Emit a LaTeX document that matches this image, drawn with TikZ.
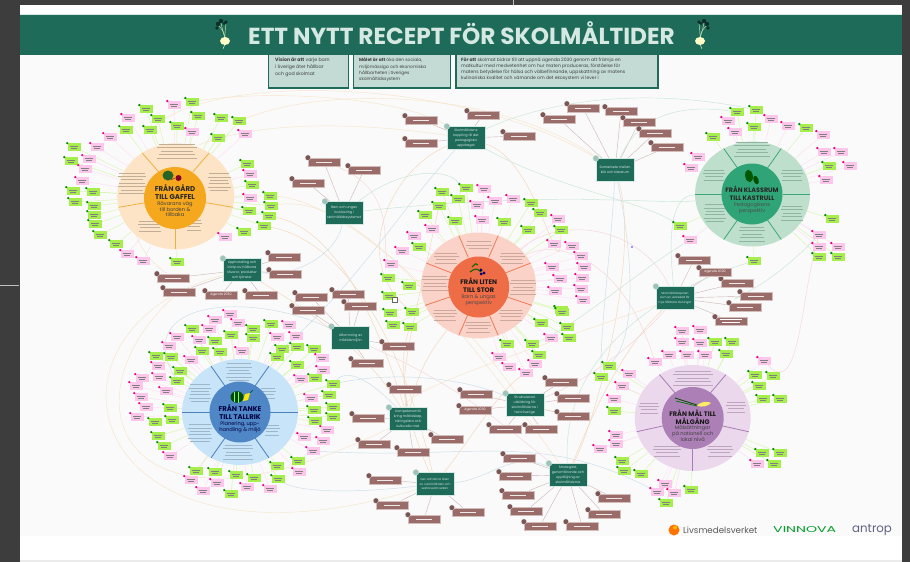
\documentclass[tikz,border=0pt]{standalone}
\usepackage{fontspec}
\usepackage{graphicx}
\setmainfont{Poppins}
\usetikzlibrary{shapes.geometric}
\definecolor{hubg}{HTML}{1F6B5A}
\definecolor{hubt}{HTML}{D5E8E2}
\definecolor{brownb}{HTML}{9A6C69}
\definecolor{gleafc}{HTML}{A6EE4C}
\definecolor{pleafc}{HTML}{FFC6EC}
\definecolor{cbe}{HTML}{F6E4C8}
\definecolor{cor}{HTML}{F4D6BA}
\definecolor{cbl}{HTML}{C9DEEA}
\definecolor{cgr}{HTML}{C8E6D6}
\definecolor{cpk}{HTML}{F7D4D9}
\definecolor{dAo}{HTML}{FDE4C6}\definecolor{dAi}{HTML}{F5A81E}\definecolor{dAl}{HTML}{F0B040}
\definecolor{dBo}{HTML}{FAD2C8}\definecolor{dBi}{HTML}{EE6C46}\definecolor{dBl}{HTML}{EE7A58}
\definecolor{dCo}{HTML}{BFDFCD}\definecolor{dCi}{HTML}{2FA476}\definecolor{dCl}{HTML}{3FA57F}
\definecolor{dDo}{HTML}{C8E4F8}\definecolor{dDi}{HTML}{4F86C6}\definecolor{dDl}{HTML}{4A7FB8}
\definecolor{dEo}{HTML}{ECD8EC}\definecolor{dEi}{HTML}{AC80B6}\definecolor{dEl}{HTML}{A87DB5}
\definecolor{gA}{HTML}{C0AE96}
\definecolor{gB}{HTML}{CBA89C}
\definecolor{gC}{HTML}{8FB5A2}
\definecolor{gD}{HTML}{9DB6C9}
\definecolor{gE}{HTML}{BDA5BD}
\tikzset{
  hubshape/.style={rectangle,minimum width=38pt,minimum height=23pt,inner sep=.5pt},
  hubnode/.style={hubshape,fill=hubg,draw=hubt,line width=.3pt,align=center,text=hubt,font=\fontsize{3.3}{4.9}\selectfont},
  brownshape/.style={rectangle,minimum width=32pt,minimum height=8.4pt,inner sep=0pt},
  brownnode/.style={brownshape,fill=brownb,draw=brownb!45!white,line width=.25pt,text=white,font=\fontsize{3.2}{4}\selectfont},
  leafshape/.style={rectangle,minimum width=13pt,minimum height=7.4pt,inner sep=0pt},
  gnode/.style={leafshape,fill=gleafc},
  pnode/.style={leafshape,fill=pleafc},
  gconn/.style={draw=gleafc!50!white,line width=.4pt},
  pconn/.style={draw=pleafc!60!white,line width=.4pt},
  bconn/.style={draw=brownb!50!white,line width=.4pt},
  curve/.style={line width=.45pt},
  titlefont/.style={font=\fontsize{#1}{8}\selectfont\bfseries},
  subfont/.style={font=\fontsize{5.1}{5.5}\selectfont},
  textbox/.style={rectangle,fill=hubt!90!hubg,draw=hubg,line width=1.8pt,anchor=north west},
  dsk/.style={ellipse,inner sep=0pt,minimum width=#1},
}
% greek lines for illegible small print
\newcommand{\gr}[5]{\foreach \k in {1,...,#4}{%
  \pgfmathsetmacro{\yy}{#2+(\k-(#4+1)/2)*3.4}%
  \pgfmathsetmacro{\ww}{#3*(0.8+0.1*mod(\k*7,3))}%
  \draw[#5,line width=.45pt] ({#1-\ww/2},\yy) -- ({#1+\ww/2},\yy);}}
% first pass: empty leaf node + connector to disc
\newcommand{\leaflink}[3]{%
  \foreach \x/\y [count=\i] in #3{%
    \node[leafshape] (#2#1\i) at (\x,\y) {};
    \draw[#1conn] (#2#1\i) -- (#2);
  }}
% second pass: visible leaf
\newcommand{\leafshow}[4]{%
  \foreach \x/\y [count=\i] in #4{%
    \node[#1node] (#2#1\i) at (\x,\y) {};
    \fill[#3] (#2#1\i.north west) circle (1.3pt);
    \draw[black!50,line width=.3pt] (\x-4,\y-1) -- (\x+4,\y-1);
    \draw[black!50,line width=.3pt] (\x-3,\y+1) -- (\x+3,\y+1);
  }}
\newcommand{\brownlink}[2]{%
  \foreach \x/\y [count=\i] in #2{%
    \node[brownshape] (#1b\i) at (\x,\y) {};
    \draw[bconn] (#1b\i) -- (#1);
  }}
\newcommand{\brownshow}[2]{%
  \foreach \x/\y [count=\i] in #2{%
    \node[brownnode] (#1b\i) at (\x,\y) {};
    \fill[brownb!80!black,draw=white,line width=.2pt] (#1b\i.north west) circle (2.8pt);
    \draw[white!85!brownb,line width=.4pt] (\x-8,\y) -- (\x+8,\y);
  }}
\newcommand{\dvs}[7]{\foreach \a in {#7}{%
  \draw[#6,line width=.8pt] ({#1+#5*cos(\a)},{#2-#5*sin(\a)}) -- ({#1+#3*cos(\a)},{#2-#4*sin(\a)});}}
\newcommand{\hubicon}[1]{\fill[hubt!70!hubg,draw=hubt,line width=.25pt] (#1.north west) circle (3pt);}
\newcommand{\turnip}[2]{\begin{scope}[shift={(#1,0)},xscale=#2]
  \draw[hubt!80!yellow,line width=.4pt] (0,38) .. controls (-1,32) .. (-6,26);
  \draw[hubt!80!yellow,line width=.4pt] (0,38) .. controls (0,32) .. (1,24);
  \draw[hubt!80!yellow,line width=.4pt] (0,38) .. controls (-2,32) .. (-4,23);
  \fill[hubg!45!black] (-7,24) circle (2.2pt) (-4,21) circle (2.2pt) (-8,28) circle (1.8pt) (1,22) circle (1.8pt) (-1,23.5) circle (1.5pt);
  \draw[hubt!80!yellow,line width=.5pt] (0,44) -- (-2,49);
  \fill[yellow!22!white] (0,41) ellipse (5pt and 4pt);
\end{scope}}
% positions
\def\Bupph{173/278,179/292,261/295,285/274,284/257}
\def\Bbarn{308/183,324/162,364/170}
\def\Bskol{421/120,483/115,421/143,519/136}
\def\Bsamarb{559/119,583/108,621/111,639/122,655/133,667/147}
\def\Bap{694/260,737/283,756/296,745/307}
\def\Butb{311/297,308/310,348/294,360/306,398/346,367/363}
\def\Bkomp{405/389,368/418,374/444,413/452,447/439}
\def\Bstru{476/394,505/429,541/429,561/382,573/398,573/416}
\def\Bstrat{519/458,515/476,518/495,526/511,540/526,582/526,604/514,614/498}
\def\Bdena{385/480,392/505,424/519,468/512}
\def\Lag{74/147,71/161,73/191,75/202,93/192,94/206,94/215,95/224,100/235,116/244,177/262,244/232,264/226,269/216,271/206,270/196,249/211,252/185,247/164,218/138,239/121,221/118,177/126,198/116,192/102,158/119,150/130,146/109,126/130}
\def\Lap{110/137,97/147,89/159,85/169,82/181,127/254,143/261,225/237,250/198,250/174,245/134,192/132,174/105,128/118}
\def\Lbg{442/192,466/188,458/199,439/206,425/215,455/221,504/222,528/230,531/203,540/213,561/230,419/247,409/286,388/278,389/296,561/310,390/313,412/312,393/325,410/327,541/323,562/312,567/327,569/338,507/344,532/344,539/355}
\def\Lbp{484/189,477/205,495/201,513/199,482/220,558/219,432/229,414/236,402/251,391/264,554/244,572/246,581/256,552/267,584/267,560/279,582/278,555/291,581/289,583/300,551/338,499/357,509/367,535/364,526/373}
\def\Lcg{737/112,756/110,754/127,713/137,806/128,829/166,832/219,680/226,754/261,819/257,838/257}
\def\Lcp{728/121,771/119,788/126,735/132,823/135,698/157,691/168,824/152,841/152,850/166,826/180,819/235,819/247,838/247,690/240}
\def\Ldg{271/324,192/329,231/335,253/329,253/338,215/341,202/351,220/352,171/357,156/356,180/371,177/381,282/349,297/347,277/357,314/349,297/365,315/378,333/384,329/395,314/410,333/407,333/417,315/421,170/408,155/422,172/420,158/436,164/446,277/466,298/461,278/479,196/471,215/472,236/475,254/478,231/494}
\def\Ldp{230/314,215/320,238/323,209/329,289/325,296/336,277/337,177/337,199/340,169/346,242/351,191/360,322/358,323/370,158/366,159/377,301/379,142/378,136/386,141/397,166/391,146/407,137/417,311/398,304/437,327/430,323/441,313/451,170/456,299/472,191/480,217/483,203/491,247/487,270/489}
\def\Leg{715/342,732/342,726/354,755/375,773/376,759/386,763/399,780/399,762/453,780/453,774/464,641/474,691/490,666/503,609/366,601/377,614/411,622/461,624/471}
\def\Lep{682/331,700/330,682/342,700/343,669/355,687/355,705/355,655/362,764/361,629/374,622/386,757/464,665/484,657/492,674/493,614/399,616/435,616/444,600/449}
\begin{document}
\begin{tikzpicture}[x=1pt,y=-1pt]
\useasboundingbox (0,0) rectangle (910,562);
\fill[black!76] (0,0) rectangle (910,562);
\fill[white] (20,5) rectangle (902,560);
\fill[black!8] (20,560) rectangle (902,562);
\fill[black!2] (20,55) rectangle (902,536);
\draw[black!25,line width=.5pt] (513,0) -- (513,5);
\draw[black!25,line width=.5pt] (0,285) -- (19,285);

% --- first pass: empty nodes and connectors, so that everything solid lies above them
\node[dsk=117pt,minimum height=106pt] (d1) at (175.7,196.3) {};
\node[dsk=115pt,minimum height=106pt] (d2) at (478.5,285.5) {};
\node[dsk=115pt,minimum height=105pt] (d3) at (752.5,194) {};
\node[dsk=116pt,minimum height=106pt] (d4) at (240,412) {};
\node[dsk=116pt,minimum height=106pt] (d5) at (692.7,418) {};
\node[hubshape] (upph) at (242,270) {};
\node[hubshape] (barn) at (344,213) {};
\node[hubshape] (skol) at (466,138) {};
\node[hubshape] (samarb) at (615,170) {};
\node[hubshape] (ap) at (675,298) {};
\node[hubshape] (utb) at (350.5,338) {};
\node[hubshape] (komp) at (408,419) {};
\node[hubshape] (stru) at (524.7,405) {};
\node[hubshape] (strat) at (568,475) {};
\node[hubshape] (dena) at (435,484) {};
\brownlink{upph}{\Bupph}\brownlink{barn}{\Bbarn}\brownlink{skol}{\Bskol}\brownlink{samarb}{\Bsamarb}\brownlink{ap}{\Bap}
\brownlink{utb}{\Butb}\brownlink{komp}{\Bkomp}\brownlink{stru}{\Bstru}\brownlink{strat}{\Bstrat}\brownlink{dena}{\Bdena}
\node[brownshape] (la) at (221,295) {};
\node[brownshape] (lb) at (715,272) {};
\node[brownshape] (lc) at (475,410) {};
\node[brownshape] (ld) at (731,321) {};
\draw[bconn] (la) -- (upph);
\draw[bconn] (lb) -- (ap);
\draw[bconn] (lc) -- (stru);
\draw[bconn] (ld) -- (ap);
\leaflink{g}{d1}{\Lag}\leaflink{p}{d1}{\Lap}
\leaflink{g}{d2}{\Lbg}\leaflink{p}{d2}{\Lbp}
\leaflink{g}{d3}{\Lcg}\leaflink{p}{d3}{\Lcp}
\leaflink{g}{d4}{\Ldg}\leaflink{p}{d4}{\Ldp}
\leaflink{g}{d5}{\Leg}\leaflink{p}{d5}{\Lep}

% long connectors
\draw[curve,cbe] (upphb2) .. controls (60,400) and (120,560) .. (komp);
\draw[curve,cbe] (upph) .. controls (20,330) and (80,590) .. (dena);
\draw[curve,cbe] (d1g27) .. controls (220,70) and (470,80) .. (samarb);
\draw[curve,cbe] (d1g25) .. controls (260,90) and (400,95) .. (skol);
\draw[curve,cbe] (d1g21) .. controls (330,85) and (500,90) .. (samarb);
\draw[curve,cbe] (upphb1) .. controls (90,220) and (130,90) .. (skol);
\draw[curve,cor] (d1g13) .. controls (340,240) and (400,330) .. (dena);
\draw[curve,cor] (d1g14) .. controls (340,230) and (380,330) .. (komp);
\draw[curve,cbe] (d1g16) .. controls (340,200) and (450,300) .. (stru);
\draw[curve,cbe] (d1g15) .. controls (360,190) and (470,340) .. (strat);
\draw[curve,cor] (skol) .. controls (390,170) and (350,260) .. (d2g18);
\draw[curve,cor] (skol) .. controls (540,160) and (560,300) .. (d2g11);
\draw[curve,cpk] (d2) .. controls (560,215) and (640,225) .. (ap);
\draw[curve,cpk] (d2) .. controls (550,240) and (620,250) .. (d5p8);
\draw[curve,cpk] (barnb2) .. controls (400,190) and (380,250) .. (d2p10);
\draw[curve,cgr] (skol) .. controls (560,190) and (640,200) .. (d3g8);
\draw[curve,cgr] (samarb) .. controls (640,110) and (690,105) .. (d3g1);
\draw[curve,cgr] (skol) .. controls (560,95) and (660,90) .. (d3g2);
\draw[curve,cgr] (ap) .. controls (665,210) and (680,195) .. (d3);
\draw[curve,cgr] (d3p15) .. controls (640,270) and (570,330) .. (d2g26);
\draw[curve,cgr] (d3) .. controls (660,205) and (560,190) .. (barn);
\draw[curve,cgr] (d3g9) .. controls (690,280) and (560,340) .. (strat);
\draw[curve,cgr] (barn) .. controls (410,160) and (470,170) .. (d2g3);
\draw[curve,cbl] (samarb) .. controls (612,240) and (600,330) .. (d5g16);
\draw[curve,cbl] (samarb) .. controls (630,240) and (640,330) .. (d5g15);
\draw[curve,cbl] (barn) .. controls (338,250) and (300,278) .. (upph);
\draw[curve,cbl] (utb) .. controls (250,290) and (130,300) .. (d4g12);
\draw[curve,cbl] (d4g32) .. controls (295,490) and (340,495) .. (dena);
\draw[curve,cbl] (d4g19) .. controls (400,370) and (470,380) .. (stru);
\draw[curve,cbl] (d4p28) .. controls (470,460) and (540,430) .. (d5p14);
\draw[curve,cbl] (dena) .. controls (490,480) and (510,450) .. (strat);
\draw[curve,cbl] (skol) .. controls (400,210) and (360,280) .. (d4g13);
\draw[curve,cbl] (komp) .. controls (370,380) and (340,360) .. (d4g20);
\draw[curve,cor] (komp) .. controls (400,370) and (410,340) .. (d2g4);
\draw[curve,cor] (komp) .. controls (420,360) and (440,340) .. (d2);
\draw[curve,cor] (komp) .. controls (360,340) and (290,300) .. (upph);
\draw[curve,cor] (dena) .. controls (470,440) and (500,390) .. (d2p25);
\draw[curve,cor] (dena) .. controls (410,430) and (395,370) .. (d2g20);
\draw[curve,cor] (strat) .. controls (590,420) and (620,350) .. (ap);
\draw[curve,cor] (strat) .. controls (600,410) and (640,250) .. (samarb);
\draw[curve,cpk] (strat) .. controls (520,440) and (470,390) .. (utb);
\draw[curve,cpk] (stru) .. controls (590,380) and (640,340) .. (ap);
\draw[curve,cbe] (ap) .. controls (560,340) and (400,390) .. (komp);
\draw[curve,cpk] (d5p9) .. controls (800,400) and (800,300) .. (d3p12);
\draw[curve,cgr] (d3p12) .. controls (755,300) and (720,300) .. (apb3);

% --- second pass: solid shapes
% top text boxes
\node[textbox,minimum width=80pt,minimum height=37pt] (boxa) at (267.5,50) {};
\node[textbox,minimum width=97pt,minimum height=37pt] (boxb) at (352.5,50) {};
\node[textbox,minimum width=202pt,minimum height=37pt] (boxc) at (455,50) {};
\node[anchor=north west,inner sep=0pt,align=left,font=\fontsize{4.7}{6.6}\selectfont,text=black!75] (ta) at (275,58) {\textbf{Vision är att} varje barn\\i Sverige äter hållbar\\och god skolmat};
\node[anchor=north west,inner sep=0pt,align=left,font=\fontsize{4.4}{6.3}\selectfont,text=black!75] (tb) at (359,58) {\textbf{Målet är att} öka den sociala,\\miljömässiga och ekonomiska\\hållbarheten i Sveriges\\skolmåltidssystem};
\node[anchor=north west,inner sep=0pt,align=left,font=\fontsize{4.55}{6.1}\selectfont,text=black!75] (tc) at (461,57.5) {\textbf{För att} skolmat bidrar till att uppnå agenda 2030 genom att främja en\\matkultur med medvetenhet om hur maten produceras, förståelse för\\matens betydelse för hälsa och välbefinnande, uppskattning av matens\\kulinariska kvalitet och värnande om det ekosystem vi lever i};

% header
\fill[hubg] (20,14) rectangle (902,55);
\draw[hubt,line width=.4pt] (20,14) -- (902,14);
\node[font=\fontsize{23.2}{25}\selectfont\bfseries,text=hubt,inner sep=0pt] (title) at (461.5,33.5) {ETT NYTT RECEPT FÖR SKOLMÅLTIDER};
\turnip{225}{1}
\turnip{700}{-1}

% discs
\node[dsk=117pt,minimum height=106pt,fill=dAo] (d1) at (175.7,196.3) {};
\node[dsk=115pt,minimum height=106pt,fill=dBo] (d2) at (478.5,285.5) {};
\node[dsk=115pt,minimum height=105pt,fill=dCo] (d3) at (752.5,194) {};
\node[dsk=116pt,minimum height=106pt,fill=dDo] (d4) at (240,412) {};
\node[dsk=116pt,minimum height=106pt,fill=dEo] (d5) at (692.7,418) {};

\dvs{175.7}{196.3}{58.5}{53}{30}{dAl}{125,55,-12,-90,192}
\dvs{478.5}{285.5}{57.5}{53}{30}{dBl}{110,70,25,-22,-70,-110,202,155}
\dvs{752.5}{194}{57.5}{52.5}{30}{dCl}{120,60,0,-60,-120,180}
\dvs{240}{412}{58}{53}{30}{dDl}{120,60,0,-60,-120,180}
\dvs{692.7}{418}{58}{53}{30}{dEl}{125,55,-15,-90,195}

\gr{176.7}{151}{40}{5}{gA}\gr{219}{182}{23}{6}{gA}\gr{194}{225}{15}{4}{gA}\gr{150}{226}{25}{4}{gA}\gr{132}{183}{28}{7}{gA}
\gr{479}{245}{26}{3}{gB}\gr{512}{258}{25}{4}{gB}\gr{446}{258}{25}{4}{gB}\gr{435}{283}{27}{5}{gB}\gr{523}{287}{26}{5}{gB}\gr{445}{315}{24}{4}{gB}\gr{478}{327}{26}{4}{gB}\gr{511}{315}{24}{4}{gB}
\gr{752}{149}{36}{5}{gC}\gr{792}{175}{22}{4}{gC}\gr{714}{175}{22}{4}{gC}\gr{715}{213}{22}{6}{gC}\gr{792}{213}{22}{5}{gC}\gr{752}{234}{26}{5}{gC}
\gr{239}{372}{26}{6}{gD}\gr{268}{393}{16}{4}{gD}\gr{272}{430}{16}{4}{gD}\gr{238}{452}{30}{5}{gD}\gr{200}{433}{24}{6}{gD}\gr{200}{393}{22}{6}{gD}
\gr{693}{378}{40}{5}{gE}\gr{649}{408}{20}{4}{gE}\gr{736}{407}{20}{4}{gE}\gr{667}{451}{28}{4}{gE}\gr{720}{451}{26}{4}{gE}

% inner circles
\node[circle,fill=dAi,minimum size=62pt,inner sep=0pt] (c1) at (175,198) {};
\node[circle,fill=dBi,minimum size=61pt,inner sep=0pt] (c2) at (478.7,287) {};
\node[circle,fill=dCi,minimum size=61pt,inner sep=0pt] (c3) at (752,194) {};
\node[circle,fill=dDi,minimum size=61pt,inner sep=0pt] (c4) at (240,412) {};
\node[circle,fill=dEi,minimum size=62pt,inner sep=0pt] (c5) at (692.7,418) {};

% disc 1 labels and vegetables
\fill[green!35!black!70!gray] (168,175.5) ellipse (5.5pt and 5pt);
\fill[purple!70!black] (178.5,178) circle (3pt);
\draw[purple!70!black,line width=.4pt] (175,178) -- (171,180);
\node[titlefont=7,text=black!85,align=center,inner sep=0pt] (t1) at (175,192) {FRÅN GÅRD\\TILL GAFFEL};
\node[subfont,text=black!75,align=center,inner sep=0pt] (s1) at (175,209) {Råvarans väg\\till borden \&\\tillbaka};
% disc 2
\draw[green!40!black,line width=1pt] (470,272) .. controls (476,268) .. (481,272);
\draw[green!40!black,line width=1pt] (472,267) .. controls (476,263) .. (478,265);
\fill[blue!45!black] (481,270) circle (1.6pt) (484,273) circle (1.6pt) (481,274) circle (1.5pt);
\node[titlefont=6.6,text=black!90,align=center,inner sep=0pt] (t2) at (478.7,285.5) {FRÅN LITEN\\TILL STOR};
\node[subfont,text=black!70,align=center,inner sep=0pt] (s2) at (478.7,300.5) {Barn \& ungas\\perspektiv};
% disc 3
\fill[green!35!black,rotate around={10:(749,176)}] (749,176) ellipse (3.8pt and 6.3pt);
\fill[green!30!black,rotate around={20:(756,180)}] (756,180) ellipse (2.5pt and 4.5pt);
\node[titlefont=6.4,text=black!85,align=center,inner sep=0pt] (t3) at (752,193.5) {FRÅN KLASSRUM\\TILL KASTRULL};
\node[subfont,text=black!70,align=center,inner sep=0pt] (s3) at (752,208) {Pedagogikens\\perspektiv};
% disc 4
\fill[green!30!black] (237,397) ellipse (6.5pt and 5.8pt);
\fill[yellow!90!orange] (245,394) -- (250,393) -- (248,400) -- (243,401) -- cycle;
\draw[green!55!white,line width=.3pt] (234,392) -- (234,402) (238,391.5) -- (238,402.5);
\draw[green!30!black,line width=.5pt] (250,393) -- (253,390);
\node[titlefont=6.9,text=blue!25!black,align=center,inner sep=0pt] (t4) at (240,412) {FRÅN TANKE\\TILL TALLRIK};
\node[subfont,text=blue!25!black,align=center,inner sep=0pt] (s4) at (240,427) {Planering, upp-\\handling \& miljö};
% disc 5
\draw[green!30!black,line width=.8pt] (675,398) -- (697,405);
\draw[green!45!black,line width=.7pt] (676,401) -- (697,406);
\fill[yellow!55!white!90!orange] (697,405.5) .. controls (703,400) and (709,402) .. (711,403) .. controls (708,406) and (702,408) .. (697,405.5) -- cycle;
\node[titlefont=6.6,text=black!90,align=center,inner sep=0pt] (t5) at (692.7,417) {FRÅN MÅL TILL\\MÅLGÅNG};
\node[subfont,text=black!75,align=center,inner sep=0pt] (s5) at (692.7,433) {Målsättningar\\på nationell och\\lokal nivå};

% hubs
\node[hubnode] (upph) at (242,270) {Upphandling och\\inköp av hållbara\\råvaror, produkter\\och tjänster};
\node[hubnode] (barn) at (344,213) {Barn och ungas\\involvering i\\skolmåltidssystemet};
\node[hubnode] (skol) at (466,138) {Skolmåltidens\\koppling till det\\pedagogiska\\uppdraget};
\node[hubnode] (samarb) at (615,170) {Samarbete mellan\\kök och klassrum};
\node[hubnode,font=\fontsize{2.9}{4.6}\selectfont] (ap) at (675,298) {Skolmåltidsaporen\\som en verksaad för\\nya hållbara lösningar};
\node[hubnode] (utb) at (350.5,338) {Utformning av\\måltidsmiljön};
\node[hubnode] (komp) at (408,419) {Kompetensmål\\kring måltidskap,\\näringslära och\\kulturella mat};
\node[hubnode] (stru) at (524.7,405) {Strukturerad\\utbildning för\\skolmåltiderna i\\hela Sverige};
\node[hubnode] (strat) at (568,475) {Strategiskt,\\genomförande och\\uppföljning av\\skolmåltiderna};
\node[hubnode,font=\fontsize{2.9}{4.6}\selectfont] (dena) at (435,484) {Den allmänna tiden\\av i skolmåltiden och\\sektorssamverkan};
\foreach \h in {upph,barn,skol,samarb,ap,utb,komp,stru,strat,dena}{\hubicon{\h}}

% brown labels
\brownshow{upph}{\Bupph}\brownshow{barn}{\Bbarn}\brownshow{skol}{\Bskol}\brownshow{samarb}{\Bsamarb}\brownshow{ap}{\Bap}
\brownshow{utb}{\Butb}\brownshow{komp}{\Bkomp}\brownshow{stru}{\Bstru}\brownshow{strat}{\Bstrat}\brownshow{dena}{\Bdena}
\node[brownnode] (la) at (221,295) {Agenda 2030};
\node[brownnode] (lb) at (715,272) {Agenda 2030};
\node[brownnode] (lc) at (475,410) {Agenda 2030};
\node[brownnode] (ld) at (731,321) {};
\fill[brownb!80!black,draw=white,line width=.2pt] (la.north west) circle (2.8pt) (lb.north west) circle (2.8pt) (lc.north west) circle (2.8pt) (ld.north west) circle (2.8pt);
\draw[white,line width=.4pt] (720,319.5) -- (742,319.5) (722,322.5) -- (740,322.5);

% leaves
\leafshow{g}{d1}{green!55!black}{\Lag}\leafshow{p}{d1}{magenta!90!red}{\Lap}
\leafshow{g}{d2}{green!55!black}{\Lbg}\leafshow{p}{d2}{magenta!90!red}{\Lbp}
\leafshow{g}{d3}{green!55!black}{\Lcg}\leafshow{p}{d3}{magenta!90!red}{\Lcp}
\leafshow{g}{d4}{green!55!black}{\Ldg}\leafshow{p}{d4}{magenta!90!red}{\Ldp}
\leafshow{g}{d5}{green!55!black}{\Leg}\leafshow{p}{d5}{magenta!90!red}{\Lep}

% small marks
\node[rectangle,draw=black!60,fill=white,line width=.3pt,minimum size=5pt,inner sep=0pt] (sq) at (395,300) {};
\fill[blue!80!white] (632,247) circle (.9pt);

% logos
\fill[orange!90!red] (674,530) circle (5.5pt);
\fill[orange!60!yellow] (675,527.5) circle (2pt);
\node[anchor=west,inner sep=0pt,text=black!65,font=\fontsize{8.7}{10}\selectfont] (lm) at (683,530) {Livsmedelsverket};
\node[anchor=west,inner sep=0pt,text=green!55!black!85!cyan] (vn) at (773,530) {\resizebox{63pt}{6pt}{VINNOVA}};
\node[anchor=west,inner sep=0pt,text=cyan!30!blue!45!black!85!white,font=\fontsize{11.8}{12}\selectfont] (an) at (852,529.5) {antrop};
\end{tikzpicture}
\end{document}
